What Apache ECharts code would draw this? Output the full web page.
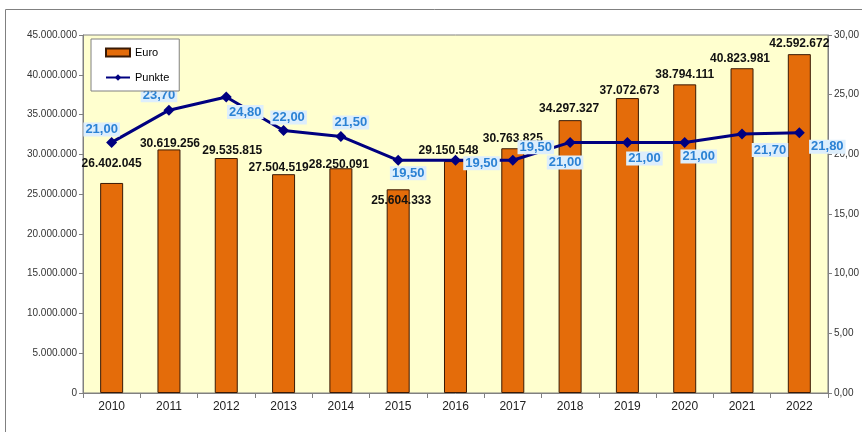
<!DOCTYPE html>
<html>
<head>
<meta charset="utf-8">
<script src="https://cdn.jsdelivr.net/npm/echarts@6/dist/echarts.min.js"></script>
<style>html,body{margin:0;padding:0;background:#fff}#c{width:862px;height:432px}</style>
</head>
<body>
<div id="c"></div>
<script>
var years = ['2010','2011','2012','2013','2014','2015','2016','2017','2018','2019','2020','2021','2022'];
var euro = [26402045, 30619256, 29535815, 27504519, 28250091, 25604333, 29150548, 30763825, 34297327, 37072673, 38794111, 40823981, 42592672];
var punkte = [21.00, 23.70, 24.80, 22.00, 21.50, 19.50, 19.50, 19.50, 21.00, 21.00, 21.00, 21.70, 21.80];
var leftTicks = {min: 0, max: 45000000, interval: 5000000};
var rightTicks = {min: 0, max: 30, interval: 5};
// label placement tweaks (style, not data)
var euroLabelOffsets = [[0,-8],[1,5],[6,4],[-5,5],[-2,7],[3,22],[-7,1],[0,1],[-1,0],[2,4],[0,1],[-2,1],[0,1]];
var punkteLabelOffsets = [[-10,-13],[-10,-15],[19,15],[5,-13],[10,-14],[10,13],[26,3],[23,-13],[-5,20],[17,16],[14,14],[28,16],[28,14]];

function fmtDE(n){ return String(n).replace(/\B(?=(\d{3})+(?!\d))/g,'.'); }
function fmtDec(v){ return v.toFixed(2).replace('.',','); }

var chart = echarts.init(document.getElementById('c'), null, {renderer:'canvas'});
var font = 'Liberation Sans, Arial, sans-serif';
chart.setOption({
  animation: false,
  textStyle: {fontFamily: font},
  graphic: [{type:'rect', shape:{x:5.5, y:9.5, width:900, height:600}, style:{fill:'none', stroke:'#808080', lineWidth:1}, z:-1}],
  legend: {
    left: 91, top: 39, orient: 'vertical', padding: [8, 10, 8, 14],
    backgroundColor: '#fff', borderColor: '#808080', borderWidth: 1,
    itemWidth: 24, itemHeight: 8, itemGap: 14,
    textStyle: {fontSize: 11, color: '#000', fontFamily: font, padding:[0,14,0,0]},
    data: [{name:'Euro', icon:'rect'}, {name:'Punkte'}]
  },
  grid: {left: 83, right: 29, top: 35, bottom: 39, show: true, backgroundColor: '#FFFFCF', borderColor: '#808080', borderWidth: 1},
  xAxis: {
    type: 'category', data: years,
    axisLine: {lineStyle: {color: '#808080'}},
    axisTick: {show: true, length: 5, lineStyle: {color: '#808080'}},
    axisLabel: {fontSize: 12, color: '#222', margin: 8}
  },
  yAxis: [{
    type: 'value', min: leftTicks.min, max: leftTicks.max, interval: leftTicks.interval,
    axisLine: {show: true, lineStyle: {color: '#808080'}},
    axisTick: {show: true, length: 4, lineStyle: {color: '#808080'}},
    splitLine: {show: false},
    axisLabel: {fontSize: 10, color: '#333', margin: 6, formatter: function(v){ return fmtDE(v); }}
  }, {
    type: 'value', min: rightTicks.min, max: rightTicks.max, interval: rightTicks.interval,
    axisLine: {show: true, lineStyle: {color: '#808080'}},
    axisTick: {show: true, length: 4, lineStyle: {color: '#808080'}},
    splitLine: {show: false},
    axisLabel: {fontSize: 10, color: '#333', margin: 6, formatter: function(v){ return fmtDec(v); }}
  }],
  series: [{
    name: 'Euro', type: 'bar', yAxisIndex: 0, barWidth: 23,
    itemStyle: {color: '#E46C0A', borderColor: '#3A1A05', borderWidth: 1},
    data: euro.map(function(v, i){
      return {value: v, label: {offset: euroLabelOffsets[i]}};
    }),
    label: {show: true, position: 'top', fontSize: 12, fontWeight: 'bold', color: '#111',
      formatter: function(p){ return fmtDE(p.value); }},
    z: 2
  }, {
    name: 'Punkte', type: 'line', yAxisIndex: 1,
    symbol: 'diamond', symbolSize: 11,
    lineStyle: {color: '#000080', width: 3},
    itemStyle: {color: '#000080'},
    data: punkte.map(function(v, i){
      return {value: v, label: {offset: punkteLabelOffsets[i]}};
    }),
    label: {show: true, position: 'inside', fontSize: 13, fontWeight: 'bold', color: '#2B82D4',
      backgroundColor: '#DDEEFC', padding: [1, 2, 0, 2],
      formatter: function(p){ return fmtDec(p.value); }},
    z: 3
  }]
});
</script>
</body>
</html>
